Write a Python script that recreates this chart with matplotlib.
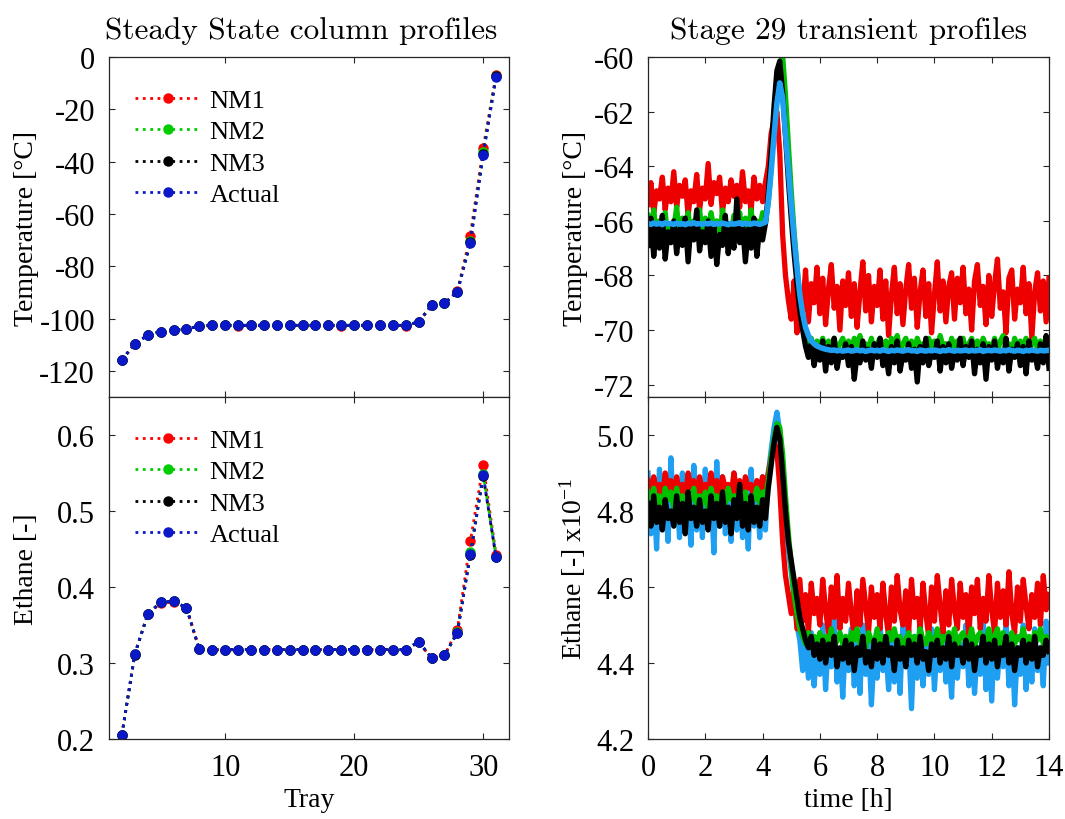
import numpy as np
import matplotlib
matplotlib.use("Agg")
import matplotlib.pyplot as plt

plt.rcParams['font.family'] = ['Liberation Serif', 'DejaVu Serif']
plt.rcParams['mathtext.fontset'] = 'custom'
plt.rcParams['mathtext.rm'] = 'Liberation Serif'
plt.rcParams['mathtext.it'] = 'Liberation Serif:italic'
plt.rcParams['axes.unicode_minus'] = False

# ---------------- Steady state column profiles ----------------
trays = [2, 3, 4, 5, 6, 7, 8, 9, 10, 11, 12, 13, 14, 15, 16, 17, 18, 19, 20,
         21, 22, 23, 24, 25, 26, 27, 28, 29, 30, 31]

T_actual = [-115.7, -109.8, -106.3, -105.0, -104.4, -104.0, -102.9,
            -102.6, -102.6, -102.6, -102.6, -102.6, -102.6, -102.6, -102.6,
            -102.6, -102.6, -102.6, -102.6, -102.6, -102.6, -102.6, -102.6,
            -101.3, -94.9, -94.2, -89.8, -71.2, -37.3, -7.6]
T_nm1 = [-115.7, -109.8, -106.3, -105.0, -104.5, -104.0, -102.9,
         -102.6, -102.6, -102.7, -102.6, -102.6, -102.6, -102.6, -102.6,
         -102.6, -102.6, -102.7, -102.6, -102.6, -102.6, -102.6, -102.7,
         -101.4, -95.0, -94.2, -89.6, -68.3, -34.7, -6.7]
T_nm2 = [-115.7, -109.8, -106.3, -105.0, -104.4, -104.0, -102.9,
         -102.6, -102.6, -102.6, -102.6, -102.6, -102.6, -102.6, -102.6,
         -102.6, -102.6, -102.6, -102.6, -102.6, -102.6, -102.6, -102.6,
         -101.3, -94.9, -94.2, -89.8, -70.5, -36.5, -7.2]
T_nm3 = [-115.7, -109.8, -106.3, -105.0, -104.4, -104.0, -102.9,
         -102.6, -102.6, -102.6, -102.6, -102.6, -102.6, -102.6, -102.6,
         -102.6, -102.6, -102.6, -102.6, -102.6, -102.6, -102.6, -102.6,
         -101.3, -94.9, -94.2, -89.8, -70.8, -37.0, -7.4]

E_actual = [0.2057, 0.312, 0.364, 0.380, 0.381, 0.373, 0.318,
            0.3176, 0.3176, 0.3176, 0.3176, 0.3176, 0.3176, 0.3176, 0.3176,
            0.3176, 0.3176, 0.3176, 0.3176, 0.3176, 0.3176, 0.3176, 0.3176,
            0.328, 0.3066, 0.310, 0.340, 0.443, 0.547, 0.439]
E_nm1 = [0.2057, 0.312, 0.364, 0.379, 0.380, 0.373, 0.318,
         0.3176, 0.3170, 0.3176, 0.3176, 0.3176, 0.3176, 0.3176, 0.3176,
         0.3176, 0.3176, 0.3176, 0.3176, 0.3176, 0.3176, 0.3176, 0.3170,
         0.327, 0.3066, 0.310, 0.344, 0.460, 0.560, 0.442]
E_nm2 = [0.2057, 0.312, 0.364, 0.380, 0.381, 0.373, 0.318,
         0.3176, 0.3176, 0.3176, 0.3176, 0.3176, 0.3176, 0.3176, 0.3176,
         0.3176, 0.3176, 0.3176, 0.3176, 0.3176, 0.3176, 0.3176, 0.3176,
         0.328, 0.3066, 0.310, 0.341, 0.446, 0.549, 0.440]
E_nm3 = [0.2057, 0.311, 0.364, 0.380, 0.381, 0.373, 0.318,
         0.3176, 0.3176, 0.3176, 0.3176, 0.3176, 0.3176, 0.3176, 0.3176,
         0.3176, 0.3176, 0.3176, 0.3176, 0.3176, 0.3176, 0.3176, 0.3176,
         0.328, 0.3066, 0.310, 0.340, 0.442, 0.546, 0.439]

# ---------------- Stage 29 transient profiles (sampled every 0.1 h) ----------------
dt_hours = 0.1

tr_T_actual = [
    -66.10, -66.13, -66.08, -66.12, -66.09, -66.14, -66.07, -66.11, -66.10, -66.13,
    -66.08, -66.12, -66.10, -66.14, -66.09, -66.11, -66.07, -66.12, -66.10, -66.13,
    -66.09, -66.11, -66.08, -66.13, -66.10, -66.12, -66.08, -66.11, -66.14, -66.09,
    -66.12, -66.10, -66.07, -66.13, -66.09, -66.11, -66.12, -66.08, -66.10, -66.13,
    -66.09, -66.05, -65.30, -64.20, -62.90, -61.70, -60.95, -61.50, -62.80, -64.10,
    -65.40, -66.60, -67.70, -68.70, -69.40, -69.90, -70.20, -70.40, -70.50, -70.58,
    -70.63, -70.67, -70.70, -70.72, -70.74, -70.73, -70.76, -70.74, -70.77, -70.75,
    -70.73, -70.77, -70.75, -70.72, -70.76, -70.74, -70.78, -70.75, -70.73, -70.76,
    -70.74, -70.77, -70.72, -70.75, -70.78, -70.74, -70.76, -70.73, -70.75, -70.77,
    -70.74, -70.72, -70.76, -70.75, -70.78, -70.73, -70.75, -70.77, -70.74, -70.76,
    -70.73, -70.75, -70.78, -70.74, -70.76, -70.72, -70.75, -70.77, -70.74, -70.76,
    -70.75, -70.73, -70.77, -70.74, -70.76, -70.75, -70.72, -70.78, -70.75, -70.74,
    -70.76, -70.73, -70.75, -70.77, -70.74, -70.76, -70.72, -70.75, -70.77, -70.74,
    -70.75, -70.78, -70.74, -70.76, -70.73, -70.75, -70.77, -70.74, -70.76, -70.75,
    -70.74]

tr_T_nm1 = [
    -65.4, -64.6, -65.7, -64.9, -65.2, -64.4, -65.6, -64.8, -65.3, -64.2,
    -65.5, -64.7, -65.1, -64.5, -65.8, -64.9, -65.3, -64.3, -65.6, -64.8,
    -65.2, -63.9, -65.4, -64.6, -65.0, -64.4, -65.7, -64.8, -65.3, -64.5,
    -65.1, -64.7, -65.5, -64.2, -65.3, -64.9, -65.6, -64.4, -65.2, -64.7,
    -65.3, -64.6, -64.0, -62.8, -62.3, -62.0, -63.5, -66.5, -68.0, -68.9,
    -69.6, -68.2, -70.1, -68.6, -69.3, -67.8, -69.7, -68.3, -69.0, -67.7,
    -69.4, -68.1, -69.8, -68.5, -67.6, -69.2, -68.4, -70.0, -68.2, -69.1,
    -67.9, -69.5, -68.3, -69.9, -68.6, -67.5, -69.3, -68.0, -69.7, -68.4,
    -69.1, -67.8, -69.6, -68.2, -70.2, -68.7, -67.7, -69.4, -68.3, -69.8,
    -68.5, -67.6, -69.2, -68.1, -69.9, -68.6, -67.8, -69.5, -68.3, -70.1,
    -68.7, -67.5, -69.3, -68.2, -69.7, -68.4, -67.9, -69.6, -68.1, -69.0,
    -67.7, -69.4, -68.5, -70.0, -68.2, -67.6, -69.1, -68.4, -69.8, -68.0,
    -69.5, -68.3, -67.4, -69.2, -68.6, -70.1, -68.1, -67.8, -69.6, -68.5,
    -69.0, -67.7, -69.4, -68.3, -70.3, -68.6, -67.9, -69.3, -68.2, -69.7,
    -68.1]

tr_T_nm2 = [
    -65.8, -66.5, -65.6, -66.6, -66.0, -66.4, -65.7, -66.7, -66.1, -66.3,
    -65.5, -66.6, -65.9, -66.4, -65.7, -66.6, -66.0, -66.2, -65.6, -66.5,
    -65.9, -66.6, -65.7, -66.3, -66.0, -66.7, -65.6, -66.4, -66.1, -66.5,
    -65.8, -66.2, -65.7, -66.6, -65.9, -66.4, -65.6, -66.6, -66.0, -66.3,
    -65.7, -66.1, -65.3, -64.0, -62.5, -61.1, -60.3, -59.95, -61.4, -63.2,
    -64.9, -66.4, -67.7, -68.8, -69.6, -70.1, -70.5, -70.3, -70.8, -70.4,
    -70.6, -70.3, -70.9, -70.4, -70.7, -70.3, -70.8, -70.5, -70.3, -70.7,
    -70.4, -70.9, -70.3, -70.6, -70.2, -70.8, -70.5, -70.7, -70.3, -70.9,
    -70.5, -70.3, -70.7, -70.4, -70.9, -70.3, -70.6, -70.2, -70.8, -70.5,
    -70.3, -70.7, -70.4, -70.9, -70.3, -70.6, -70.5, -70.8, -70.3, -70.7,
    -70.4, -70.8, -70.2, -70.6, -70.5, -70.9, -70.3, -70.7, -70.4, -70.6,
    -70.3, -70.8, -70.5, -70.3, -70.7, -70.4, -70.9, -70.3, -70.6, -70.5,
    -70.7, -70.3, -70.8, -70.4, -70.2, -70.6, -70.5, -70.9, -70.3, -70.7,
    -70.4, -70.6, -70.3, -70.8, -70.5, -70.3, -70.7, -70.4, -70.6, -70.3,
    -70.5]

tr_T_nm3 = [
    -66.9, -65.9, -67.3, -66.2, -67.0, -65.8, -67.4, -66.4, -66.8, -66.0,
    -67.2, -66.3, -66.9, -65.9, -67.5, -66.1, -66.7, -65.6, -67.1, -66.4,
    -66.8, -66.0, -67.3, -66.2, -67.6, -66.5, -66.9, -65.8, -67.2, -66.3,
    -67.0, -65.2, -66.8, -66.1, -67.5, -66.3, -67.0, -65.9, -67.3, -66.2,
    -66.7, -66.1, -65.0, -63.5, -61.8, -60.5, -60.15, -61.3, -62.9, -64.5,
    -65.9, -67.2, -68.3, -69.3, -70.0, -70.6, -71.0, -70.5, -71.3, -70.7,
    -71.1, -70.4, -71.5, -70.6, -71.2, -70.3, -71.4, -70.8, -71.0, -70.5,
    -71.3, -70.6, -71.8, -70.9, -71.2, -70.4, -71.1, -70.7, -71.4, -70.5,
    -71.0, -70.3, -71.3, -70.8, -71.6, -70.6, -71.2, -70.4, -71.5, -70.9,
    -71.1, -70.5, -71.4, -70.7, -71.9, -70.6, -71.2, -70.3, -71.3, -70.8,
    -71.0, -70.4, -71.5, -70.6, -71.2, -70.5, -71.4, -70.8, -71.1, -70.3,
    -71.3, -70.6, -71.0, -70.4, -71.6, -70.7, -71.2, -70.5, -71.8, -70.6,
    -71.1, -70.4, -71.4, -70.8, -71.2, -70.3, -71.5, -70.7, -71.0, -70.5,
    -71.3, -70.6, -71.6, -70.4, -71.1, -70.8, -71.4, -70.5, -71.2, -70.2,
    -71.4]

tr_E_actual = [
    4.90, 4.74, 4.86, 4.70, 4.91, 4.78, 4.84, 4.72, 4.94, 4.77,
    4.87, 4.73, 4.90, 4.76, 4.83, 4.71, 4.92, 4.75, 4.88, 4.73,
    4.91, 4.77, 4.85, 4.69, 4.93, 4.76, 4.89, 4.74, 4.82, 4.72,
    4.90, 4.75, 4.87, 4.73, 4.84, 4.70, 4.91, 4.76, 4.86, 4.73,
    4.89, 4.75, 4.90, 4.96, 5.02, 5.06, 5.01, 4.91, 4.78, 4.70,
    4.64, 4.57, 4.50, 4.46, 4.38, 4.47, 4.36, 4.48, 4.34, 4.45,
    4.37, 4.50, 4.33, 4.46, 4.39, 4.52, 4.35, 4.44, 4.31, 4.47,
    4.38, 4.49, 4.34, 4.45, 4.32, 4.50, 4.37, 4.46, 4.29, 4.43,
    4.36, 4.51, 4.38, 4.44, 4.33, 4.48, 4.35, 4.47, 4.32, 4.50,
    4.39, 4.45, 4.28, 4.47, 4.36, 4.52, 4.34, 4.44, 4.37, 4.49,
    4.33, 4.46, 4.38, 4.51, 4.35, 4.43, 4.31, 4.48, 4.36, 4.45,
    4.39, 4.50, 4.34, 4.47, 4.32, 4.44, 4.37, 4.52, 4.33, 4.46,
    4.30, 4.48, 4.36, 4.45, 4.39, 4.51, 4.34, 4.47, 4.29, 4.44,
    4.37, 4.50, 4.33, 4.46, 4.35, 4.49, 4.38, 4.44, 4.34, 4.51,
    4.40]

tr_E_nm1 = [
    4.88, 4.84, 4.89, 4.85, 4.87, 4.83, 4.90, 4.86, 4.88, 4.84,
    4.89, 4.85, 4.87, 4.83, 4.90, 4.86, 4.88, 4.84, 4.89, 4.85,
    4.87, 4.84, 4.90, 4.85, 4.88, 4.83, 4.89, 4.86, 4.87, 4.84,
    4.90, 4.85, 4.88, 4.84, 4.89, 4.86, 4.87, 4.83, 4.88, 4.85,
    4.89, 4.86, 4.90, 4.94, 4.98, 4.96, 4.86, 4.72, 4.63, 4.58,
    4.53, 4.60, 4.49, 4.62, 4.51, 4.58, 4.48, 4.61, 4.53, 4.57,
    4.50, 4.62, 4.54, 4.48, 4.60, 4.52, 4.63, 4.49, 4.57, 4.51,
    4.61, 4.53, 4.47, 4.59, 4.50, 4.62, 4.55, 4.48, 4.60, 4.52,
    4.58, 4.49, 4.61, 4.53, 4.47, 4.60, 4.51, 4.63, 4.54, 4.50,
    4.59, 4.48, 4.62, 4.52, 4.57, 4.49, 4.61, 4.53, 4.47, 4.60,
    4.51, 4.63, 4.55, 4.48, 4.59, 4.50, 4.62, 4.54, 4.49, 4.61,
    4.52, 4.58, 4.47, 4.60, 4.53, 4.62, 4.49, 4.57, 4.51, 4.63,
    4.54, 4.48, 4.61, 4.52, 4.59, 4.50, 4.64, 4.53, 4.48, 4.60,
    4.51, 4.62, 4.55, 4.49, 4.58, 4.52, 4.61, 4.50, 4.63, 4.54,
    4.58]

tr_E_nm2 = [
    4.85, 4.81, 4.86, 4.82, 4.84, 4.80, 4.86, 4.83, 4.85, 4.81,
    4.86, 4.82, 4.84, 4.80, 4.85, 4.83, 4.86, 4.81, 4.84, 4.82,
    4.85, 4.80, 4.86, 4.83, 4.84, 4.81, 4.85, 4.82, 4.86, 4.83,
    4.84, 4.81, 4.86, 4.82, 4.85, 4.80, 4.84, 4.83, 4.86, 4.82,
    4.85, 4.83, 4.88, 4.94, 4.99, 5.03, 5.02, 4.95, 4.84, 4.74,
    4.66, 4.58, 4.53, 4.49, 4.47, 4.45, 4.48, 4.44, 4.47, 4.45,
    4.48, 4.44, 4.47, 4.45, 4.49, 4.44, 4.46, 4.48, 4.45, 4.47,
    4.44, 4.48, 4.46, 4.49, 4.45, 4.47, 4.44, 4.48, 4.46, 4.45,
    4.49, 4.45, 4.47, 4.44, 4.48, 4.46, 4.49, 4.45, 4.47, 4.44,
    4.46, 4.48, 4.45, 4.47, 4.44, 4.49, 4.46, 4.45, 4.48, 4.46,
    4.45, 4.49, 4.44, 4.47, 4.46, 4.48, 4.45, 4.49, 4.44, 4.47,
    4.48, 4.45, 4.46, 4.49, 4.44, 4.47, 4.48, 4.45, 4.46, 4.49,
    4.44, 4.47, 4.49, 4.45, 4.48, 4.44, 4.46, 4.48, 4.45, 4.47,
    4.46, 4.49, 4.45, 4.47, 4.44, 4.48, 4.46, 4.49, 4.45, 4.47,
    4.46]

tr_E_nm3 = [
    4.82, 4.76, 4.84, 4.77, 4.81, 4.75, 4.83, 4.78, 4.80, 4.76,
    4.84, 4.77, 4.82, 4.74, 4.85, 4.78, 4.81, 4.76, 4.83, 4.77,
    4.80, 4.75, 4.84, 4.78, 4.82, 4.76, 4.85, 4.77, 4.81, 4.74,
    4.83, 4.78, 4.87, 4.76, 4.82, 4.75, 4.84, 4.77, 4.81, 4.76,
    4.83, 4.78, 4.86, 4.92, 4.98, 5.02, 4.99, 4.90, 4.80, 4.72,
    4.67, 4.62, 4.57, 4.52, 4.49, 4.46, 4.44, 4.47, 4.42, 4.45,
    4.41, 4.46, 4.40, 4.45, 4.42, 4.47, 4.39, 4.44, 4.41, 4.46,
    4.40, 4.45, 4.38, 4.44, 4.42, 4.47, 4.40, 4.43, 4.39, 4.46,
    4.41, 4.45, 4.40, 4.47, 4.42, 4.44, 4.38, 4.46, 4.41, 4.44,
    4.39, 4.46, 4.42, 4.45, 4.40, 4.47, 4.41, 4.43, 4.38, 4.45,
    4.42, 4.46, 4.40, 4.44, 4.41, 4.47, 4.39, 4.45, 4.42, 4.44,
    4.40, 4.46, 4.41, 4.45, 4.38, 4.44, 4.42, 4.47, 4.40, 4.45,
    4.41, 4.46, 4.39, 4.44, 4.42, 4.47, 4.40, 4.45, 4.38, 4.44,
    4.42, 4.46, 4.40, 4.45, 4.41, 4.47, 4.39, 4.44, 4.42, 4.46,
    4.43]

series_names = ['NM1', 'NM2', 'NM3', 'Actual']
tray_ticks = [10, 20, 30]
temp_ticks = [0, -20, -40, -60, -80, -100, -120]
eth_ticks = [0.2, 0.3, 0.4, 0.5, 0.6]
tr_temp_ticks = [-60, -62, -64, -66, -68, -70, -72]
tr_eth_ticks = [4.2, 4.4, 4.6, 4.8, 5.0]
time_ticks = [0, 2, 4, 6, 8, 10, 12, 14]

# ---------------- styling ----------------
ss_colors = ['#ff0000', '#00cc00', '#000000', '#0a18c8']
tr_colors = {'NM1': '#ee0000', 'NM2': '#00c000', 'NM3': '#000000', 'Actual': '#1f9ff2'}
frame_col = '#262626'
TICK_FS = 22
LABEL_FS = 20
NOISE_LW = 3.8

fig = plt.figure(figsize=(10.65, 8.2), dpi=100)
W, H = 1065, 820


def add_ax(x0, y0, x1, y1):
    return fig.add_axes([x0 / W, 1 - y1 / H, (x1 - x0) / W, (y1 - y0) / H])


ax1 = add_ax(109, 58, 509, 398)
ax2 = add_ax(109, 398, 509, 740)
ax3 = add_ax(648, 58, 1049, 398)
ax4 = add_ax(648, 398, 1049, 740)

for ax in (ax1, ax2, ax3, ax4):
    for s in ax.spines.values():
        s.set_color(frame_col)
        s.set_linewidth(0.9)
    ax.tick_params(direction='in', length=4, width=0.8, colors=frame_col,
                   labelcolor='black', labelsize=TICK_FS, top=True, right=True)
    ax.tick_params(axis='y', pad=10)
    ax.tick_params(axis='x', pad=10)


def fmt_labels(vals, fmt):
    return [fmt.format(v) for v in vals]


# Steady state temperature
for name, vals, col in zip(series_names, [T_nm1, T_nm2, T_nm3, T_actual], ss_colors):
    ax1.plot(trays, vals, linestyle=':', linewidth=2.0, color=col, marker='o',
             markersize=6.5, markerfacecolor=col, markeredgecolor=col, label=name)
ax1.set_xlim(1, 32)
ax1.set_ylim(-130, 0)
ax1.set_xticks(tray_ticks)
ax1.set_xticklabels([])
ax1.set_yticks(temp_ticks)
ax1.set_yticklabels(fmt_labels(temp_ticks, '{:d}'))
ax1.set_ylabel('Temperature [°C]', fontsize=LABEL_FS)
ax1.yaxis.set_label_coords(-0.176, 0.5)
ax1.set_title('Steady State column profiles', fontfamily='cmr10', fontsize=22.5,
              pad=14, x=0.48)

# Steady state ethane
for name, vals, col in zip(series_names, [E_nm1, E_nm2, E_nm3, E_actual], ss_colors):
    ax2.plot(trays, vals, linestyle=':', linewidth=2.0, color=col, marker='o',
             markersize=6.5, markerfacecolor=col, markeredgecolor=col, label=name)
ax2.set_xlim(1, 32)
ax2.set_ylim(0.2, 0.65)
ax2.set_xticks(tray_ticks)
ax2.set_xticklabels([str(v) for v in tray_ticks])
ax2.set_yticks(eth_ticks)
ax2.set_yticklabels(fmt_labels(eth_ticks, '{:.1f}'))
ax2.set_ylabel('Ethane [-]', fontsize=LABEL_FS)
ax2.yaxis.set_label_coords(-0.176, 0.5)
ax2.set_xlabel('Tray', fontsize=LABEL_FS, labelpad=4)

for ax in (ax1, ax2):
    ax.legend(loc='upper left', bbox_to_anchor=(0.0, 0.985), frameon=False,
              fontsize=19, numpoints=1, handlelength=2.45, handletextpad=0.35,
              labelspacing=0.3, borderaxespad=0.6)

# Transient temperature
for name, vals in [('NM1', tr_T_nm1), ('NM2', tr_T_nm2), ('NM3', tr_T_nm3)]:
    ax3.plot(np.arange(len(vals)) * dt_hours, vals, color=tr_colors[name],
             linewidth=NOISE_LW)
ax3.plot(np.arange(len(tr_T_actual)) * dt_hours, tr_T_actual,
         color=tr_colors['Actual'], linewidth=4.0)
ax3.set_xlim(0, 14)
ax3.set_ylim(-72.45, -60)
ax3.set_xticks(time_ticks)
ax3.set_xticklabels([])
ax3.set_yticks(tr_temp_ticks)
ax3.set_yticklabels(fmt_labels(tr_temp_ticks, '{:d}'))
ax3.set_ylabel('Temperature [°C]', fontsize=LABEL_FS)
ax3.yaxis.set_label_coords(-0.15, 0.5)
ax3.set_title('Stage 29 transient profiles', fontfamily='cmr10', fontsize=22.5, pad=14)

# Transient ethane
ax4.plot(np.arange(len(tr_E_actual)) * dt_hours, tr_E_actual,
         color=tr_colors['Actual'], linewidth=NOISE_LW)
for name, vals in [('NM1', tr_E_nm1), ('NM2', tr_E_nm2), ('NM3', tr_E_nm3)]:
    ax4.plot(np.arange(len(vals)) * dt_hours, vals, color=tr_colors[name],
             linewidth=NOISE_LW)
ax4.set_xlim(0, 14)
ax4.set_ylim(4.2, 5.1)
ax4.set_xticks(time_ticks)
ax4.set_xticklabels([str(v) for v in time_ticks])
ax4.set_yticks(tr_eth_ticks)
ax4.set_yticklabels(fmt_labels(tr_eth_ticks, '{:.1f}'))
ax4.set_ylabel(r'Ethane [-] x10$^{-1}$', fontsize=LABEL_FS)
ax4.yaxis.set_label_coords(-0.15, 0.5)
ax4.set_xlabel('time [h]', fontsize=LABEL_FS, labelpad=4)

fig.savefig('out.png', dpi=100)
